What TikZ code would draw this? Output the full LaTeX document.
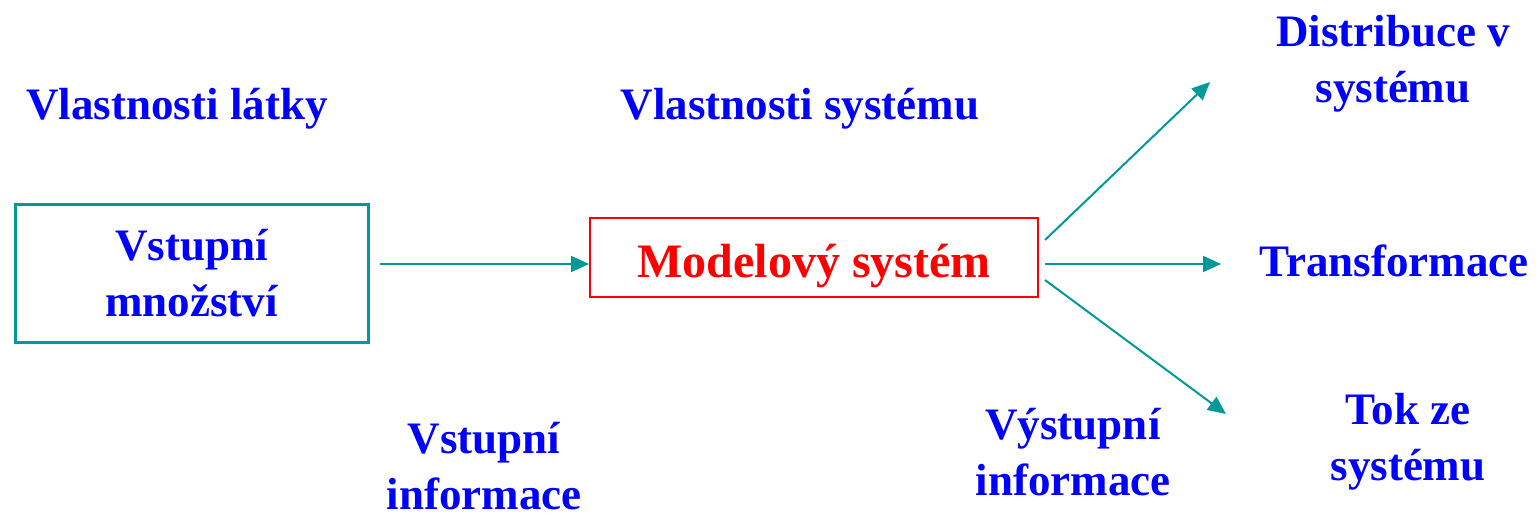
\documentclass[tikz,border=0pt]{standalone}
\usepackage{fontspec}
\setmainfont{Liberation Serif}
\usetikzlibrary{arrows.meta}
\definecolor{tealc}{RGB}{0,153,153}
\definecolor{bluec}{RGB}{0,0,255}
\definecolor{redc}{RGB}{255,0,0}
\tikzset{
  lbl/.style={text=bluec, font=\fontsize{45}{56}\selectfont\bfseries, align=center, inner sep=0pt},
  conn/.style={draw=tealc, line width=2pt, -{Triangle[length=18pt,width=16pt]}},
}
\begin{document}
\begin{tikzpicture}[x=1pt,y=-1pt]
\useasboundingbox (0,0) rectangle (1539,514);
% boxes
\node[draw=tealc, line width=3pt, minimum width=353pt, minimum height=138pt, lbl] (inq) at (191.5,273) {Vstupní\\množství};
\node[draw=redc, line width=2pt, minimum width=448pt, minimum height=79pt, inner sep=0pt,
      text height=39pt, text depth=0pt,
      text=redc, font=\fontsize{48}{56}\selectfont\bfseries] (model) at (814,257.5) {Modelový systém};
% labels
\node[lbl] (vl) at (177,109) {Vlastnosti látky};
\node[lbl] (vs) at (800,109) {Vlastnosti systému};
\node[lbl] (dist) at (1393,64) {Distribuce v\\systému};
\node[lbl] (trans) at (1394,261) {Transformace};
\node[lbl] (tok) at (1408,442) {Tok ze\\systému};
\node[lbl] (vin) at (484,466) {Vstupní\\informace};
\node[lbl] (vout) at (1073,452) {Výstupní\\informace};
% connector ends
\coordinate (s1) at (1045,240);
\coordinate (s2) at (1045,264);
\coordinate (s3) at (1045,280);
\coordinate (e1) at (1210,82);
\coordinate (e2) at (1221,264);
\coordinate (e3) at (1226,414);
\coordinate (a0) at (380,264);
% connectors
\draw[conn] (a0) -- (model.west |- a0);
\draw[conn] (s1) -- (e1);
\draw[conn] (s2) -- (e2);
\draw[conn] (s3) -- (e3);
\end{tikzpicture}
\end{document}
